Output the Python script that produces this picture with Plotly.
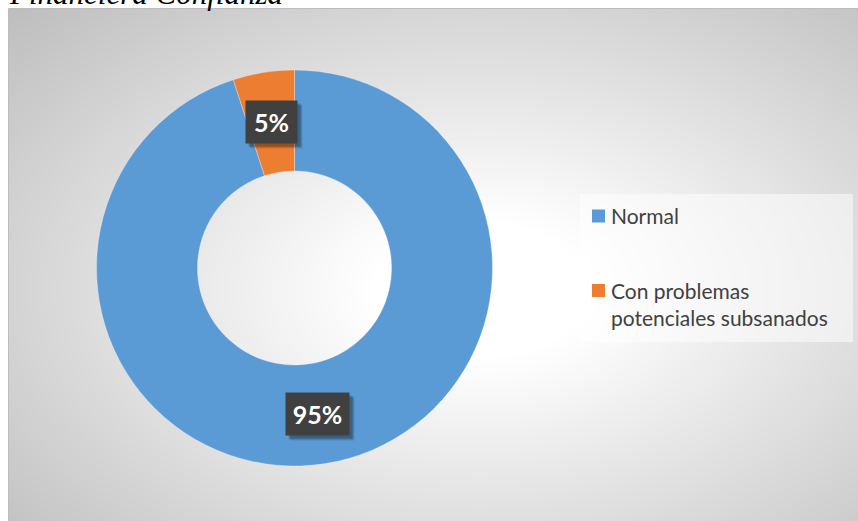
import base64
import math
import struct
import zlib

import numpy as np
import plotly.graph_objects as go

# ---- data ----
categories = ["Normal", "Con problemas potenciales subsanados"]
legend_labels = ["Normal", "Con problemas<br>potenciales subsanados"]
values = [95, 5]
colors = ["#5B9BD5", "#ED7D31"]
title_text = "Financiera Confianza"

# ---- canvas geometry (pixels) ----
W, H = 858, 521
AREA_X0, AREA_Y0 = 9, 9          # chart-area top-left corner
PIE_CX, PIE_CY, PIE_R = 294.5, 268.0, 198.0
HOLE = 0.49


def px_x(x):
    return x / W


def px_y(y):
    return 1 - y / H


# ---- soft radial background for the chart area, built as a grayscale PNG ----
def gray_png(arr):
    h, w = arr.shape
    raw = b"".join(b"\x00" + arr[i].tobytes() for i in range(h))

    def chunk(tag, data):
        return (struct.pack(">I", len(data)) + tag + data
                + struct.pack(">I", zlib.crc32(tag + data) & 0xFFFFFFFF))

    png = b"\x89PNG\r\n\x1a\n"
    png += chunk(b"IHDR", struct.pack(">IIBBBBB", w, h, 8, 0, 0, 0, 0))
    png += chunk(b"IDAT", zlib.compress(raw, 9))
    png += chunk(b"IEND", b"")
    return "data:image/png;base64," + base64.b64encode(png).decode()


bw, bh = W - AREA_X0, H - AREA_Y0
yy, xx = np.mgrid[0:bh, 0:bw].astype(float)
gx, gy = 480 - AREA_X0, 290 - AREA_Y0
d = np.sqrt(((xx - gx) / 500.0) ** 2 + ((yy - gy) / 310.0) ** 2)
shade = 255 - 60.0 * np.clip(d - 0.22, 0, None)
shade = np.clip(shade, 188, 255).astype(np.uint8)
bg_src = gray_png(shade)

fig = go.Figure()

fig.add_trace(go.Pie(
    labels=categories,
    values=values,
    hole=HOLE,
    sort=False,
    direction="clockwise",
    rotation=0,
    marker=dict(colors=colors, line=dict(color="rgba(255,255,255,0.6)", width=0.5)),
    textinfo="none",
    hoverinfo="label+percent",
    showlegend=False,
    domain=dict(
        x=[px_x(PIE_CX - PIE_R), px_x(PIE_CX + PIE_R)],
        y=[px_y(PIE_CY + PIE_R), px_y(PIE_CY - PIE_R)],
    ),
))

annotations = []
shapes = []

# ---- percentage labels placed at the middle of each ring segment ----
total = float(sum(values))
r_mid = PIE_R * (1 + HOLE) / 2
cum = 0.0
box_sizes = [(63, 42), (51, 42)]
for v, (bw_, bh_) in zip(values, box_sizes):
    theta = 2 * math.pi * (cum + v / 2) / total
    cum += v
    lx = PIE_CX + r_mid * math.sin(theta)
    ly = PIE_CY - r_mid * math.cos(theta)
    label = f"<b>{v / total * 100:.0f}%</b>"
    common = dict(x=px_x(lx), y=px_y(ly), xref="paper", yref="paper",
                  xanchor="center", yanchor="middle", showarrow=False,
                  width=bw_, height=bh_, borderpad=0)
    # drop shadow
    for k, a in ((5, 0.10), (4, 0.14), (3, 0.18)):
        annotations.append(dict(common, xshift=k, yshift=-k, text="",
                                bgcolor=f"rgba(0,0,0,{a})"))
    annotations.append(dict(common, text=label, bgcolor="#404040",
                            font=dict(family="Lato", size=25, color="white")))

# ---- legend panel ----
LEG_X0, LEG_Y0, LEG_X1, LEG_Y1 = 580, 194, 853, 342
shapes.append(dict(
    type="rect", xref="paper", yref="paper",
    x0=px_x(LEG_X0), x1=px_x(LEG_X1), y0=px_y(LEG_Y1), y1=px_y(LEG_Y0),
    fillcolor="rgba(255,255,255,0.5)", line=dict(width=0), layer="above",
))
legend_rows = [216, 290.5]
for lab, col, ry in zip(legend_labels, colors, legend_rows):
    shapes.append(dict(
        type="rect", xref="paper", yref="paper",
        x0=px_x(592), x1=px_x(605), y0=px_y(ry + 6.5), y1=px_y(ry - 6.5),
        fillcolor=col, line=dict(width=0), layer="above",
    ))
    annotations.append(dict(
        x=px_x(610), y=px_y(ry - 14), xref="paper", yref="paper",
        xanchor="left", yanchor="top", align="left",
        text=lab, showarrow=False, borderpad=0,
        font=dict(family="Lato", size=21, color="#404040"),
    ))

# ---- chart area outline ----
shapes.append(dict(
    type="rect", xref="paper", yref="paper",
    x0=px_x(AREA_X0 - 0.5), x1=px_x(W + 2), y0=px_y(H + 2), y1=px_y(AREA_Y0 - 0.5),
    line=dict(color="#BDBDBD", width=1), fillcolor="rgba(0,0,0,0)", layer="above",
))

# ---- caption text running along the top ----
annotations.append(dict(
    x=px_x(8), y=px_y(12), xref="paper", yref="paper",
    xanchor="left", yanchor="bottom", showarrow=False, borderpad=0,
    text=title_text,
    font=dict(family="Liberation Serif", size=31, color="black", style="italic"),
))

fig.update_layout(
    width=W, height=H,
    margin=dict(l=0, r=0, t=0, b=0),
    paper_bgcolor="white",
    plot_bgcolor="white",
    showlegend=False,
    images=[dict(
        source=bg_src, xref="paper", yref="paper",
        x=px_x(AREA_X0), y=px_y(AREA_Y0),
        sizex=bw / W, sizey=bh / H,
        xanchor="left", yanchor="top", sizing="stretch", layer="below",
    )],
    shapes=shapes,
    annotations=annotations,
)

fig.write_html("out.html")
